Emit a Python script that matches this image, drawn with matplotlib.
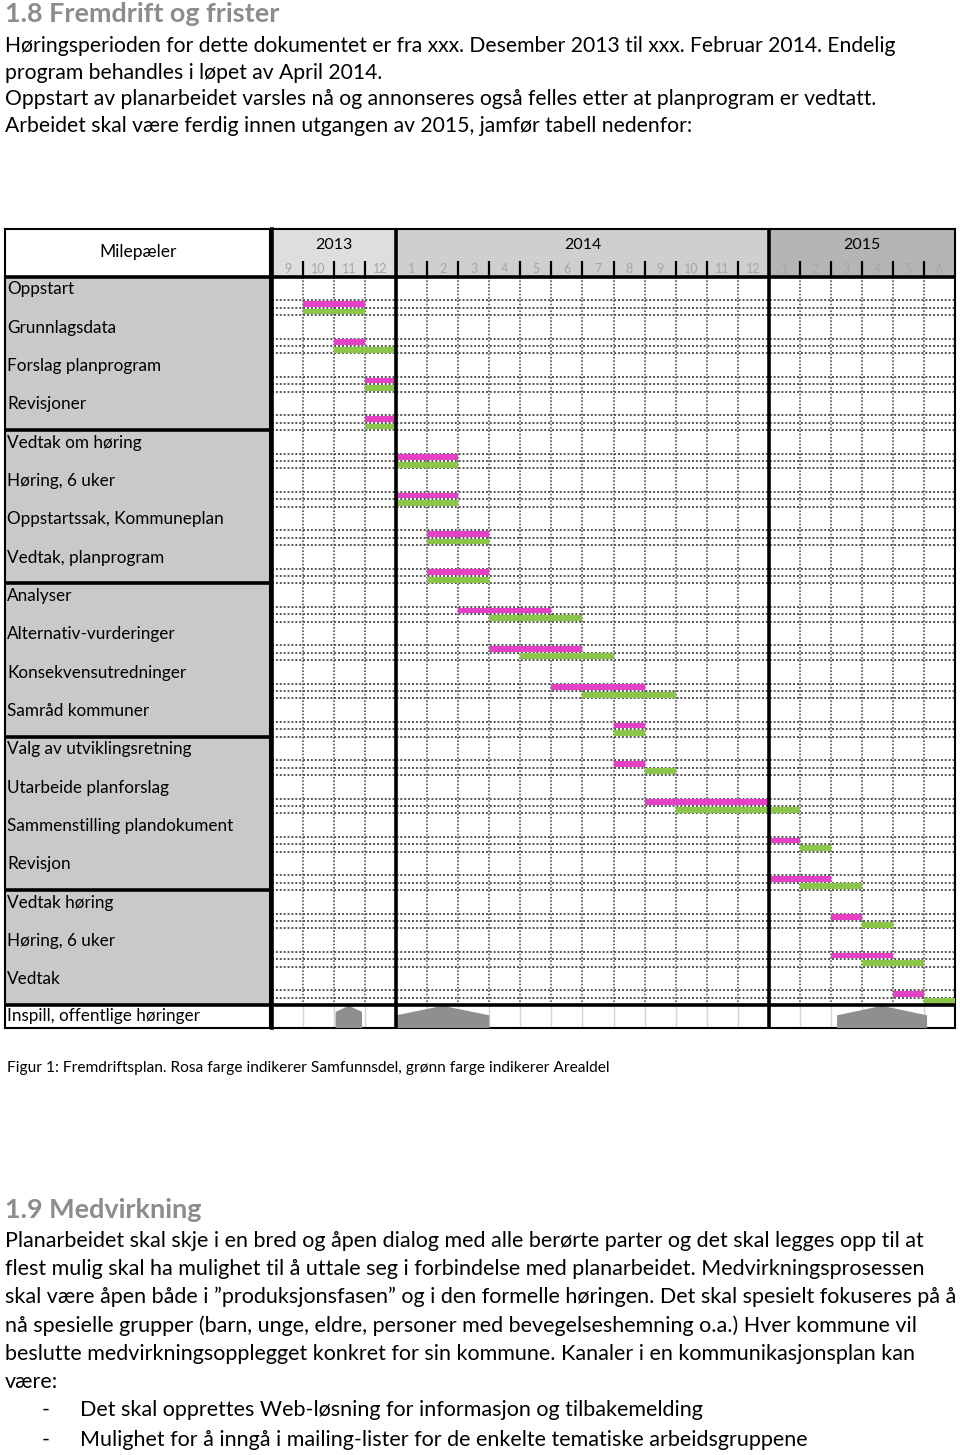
import matplotlib
matplotlib.use('Agg')
import matplotlib.pyplot as plt
from matplotlib.patches import Rectangle, Polygon

plt.rcParams['font.family'] = ['Lato', 'DejaVu Sans']

# ---------------- data ----------------
years = ['2013', '2014', '2015']
year_months = [[9, 10, 11, 12], list(range(1, 13)), list(range(1, 7))]
year_bg = ['#dedede', '#cfcfcf', '#b5b5b5']

tasks = ['Oppstart', 'Grunnlagsdata', 'Forslag planprogram', 'Revisjoner',
         'Vedtak om høring', 'Høring, 6 uker', 'Oppstartssak, Kommuneplan',
         'Vedtak, planprogram', 'Analyser', 'Alternativ-vurderinger',
         'Konsekvensutredninger', 'Samråd kommuner', 'Valg av utviklingsretning',
         'Utarbeide planforslag', 'Sammenstilling plandokument', 'Revisjon',
         'Vedtak høring', 'Høring, 6 uker', 'Vedtak']
groups = [0, 4, 8, 12, 16, 19]   # rows where a thick separator goes

# (start month index from Sep 2013, number of months)
samfunn = [(1, 2), (2, 1), (3, 1), (3, 1), (4, 2), (4, 2), (5, 2), (5, 2), (6, 3), (7, 3),
           (9, 3), (11, 1), (11, 1), (12, 4), (16, 1), (16, 2), (18, 1), (18, 2), (20, 1)]
areal = [(1, 2), (2, 2), (3, 1), (3, 1), (4, 2), (4, 2), (5, 2), (5, 2), (7, 3), (8, 3),
         (10, 3), (11, 1), (12, 1), (13, 4), (17, 1), (17, 2), (19, 1), (19, 2), (21, 1)]

inspill_label = 'Inspill, offentlige høringer'
inspill = [(2.05, 2.9), (4.0, 7.0), (18.2, 21.1)]

head1 = '1.8 Fremdrift og frister'
para1 = ['Høringsperioden for dette dokumentet er fra xxx. Desember 2013 til xxx. Februar 2014. Endelig',
         'program behandles i løpet av April 2014.',
         'Oppstart av planarbeidet varsles nå og annonseres også felles etter at planprogram er vedtatt.',
         'Arbeidet skal være ferdig innen utgangen av 2015, jamfør tabell nedenfor:']
caption = 'Figur 1: Fremdriftsplan. Rosa farge indikerer Samfunnsdel, grønn farge indikerer Arealdel'
head2 = '1.9 Medvirkning'
para2 = ['Planarbeidet skal skje i en bred og åpen dialog med alle berørte parter og det skal legges opp til at',
         'flest mulig skal ha mulighet til å uttale seg i forbindelse med planarbeidet. Medvirkningsprosessen',
         'skal være åpen både i ”produksjonsfasen” og i den formelle høringen. Det skal spesielt fokuseres på å',
         'nå spesielle grupper (barn, unge, eldre, personer med bevegelseshemning o.a.) Hver kommune vil',
         'beslutte medvirkningsopplegget konkret for sin kommune. Kanaler i en kommunikasjonsplan kan',
         'være:']
bullets = ['Det skal opprettes Web-løsning for informasjon og tilbakemelding',
           'Mulighet for å inngå i mailing-lister for de enkelte tematiske arbeidsgruppene']

PINK = '#e640c4'
GREEN = '#8cc648'
HEADC = '#8c8c8c'

# ---------------- figure ----------------
W, H = 960, 1455
fig = plt.figure(figsize=(W / 100, H / 100), dpi=100)
rend = fig.canvas.get_renderer()


def fit(s, width, weight='normal'):
    t = fig.text(0, 0, s, fontsize=10, fontweight=weight)
    w = t.get_window_extent(rend).width
    t.remove()
    return 10 * width / w


def ftext(x, y, s, size, **kw):
    fig.text(x / W, 1 - y / H, s, fontsize=size, va='center', ha='left', **kw)


def px_axes(x0, y0, x1, y1):
    return fig.add_axes([x0 / W, 1 - y1 / H, (x1 - x0) / W, (y1 - y0) / H])


# document text
ftext(5, 14, head1, fit(head1, 275, 'bold'), color=HEADC, fontweight='bold')
s1 = fit(para1[0], 890)
for y, line in zip([46, 73, 99, 126], para1):
    ftext(5, y, line, s1)

ftext(7, 1068, caption, fit(caption, 601))
ftext(5, 1210, head2, fit(head2, 197, 'bold'), color=HEADC, fontweight='bold')
s2 = fit(para2[0], 917)
for y, line in zip([1241, 1269, 1297, 1326, 1354, 1382], para2):
    ftext(5, y, line, s2)
for y, line in zip([1410, 1440], bullets):
    ftext(42, y, '-', s2)
    ftext(80, y, line, s2)

# ---------------- gantt table ----------------
ROW = 38.33
top = (229 - 276.7) / ROW
n = len(tasks)
bottom = n + (1028 - 1005) / ROW
nm = sum(len(m) for m in year_months)

ax = px_axes(272, 229, 955, 1028)
ax.set_xlim(0, nm)
ax.set_ylim(bottom, top)
ax.set_xticks([])
ax.set_yticks([])

# header backgrounds, years and months
start = 0
month_names = []
for yr, months, bg in zip(years, year_months, year_bg):
    ax.add_patch(Rectangle((start, top), len(months), -top, color=bg, lw=0, zorder=0))
    ax.text(start + len(months) / 2, top * 0.66, yr, ha='center', va='center', fontsize=11.5)
    month_names += months
    start += len(months)
for i, m in enumerate(month_names):
    ax.text(i + 0.5, -0.2, str(m), ha='center', va='center', fontsize=9, color='#a6a6a6')

year_edges = []
acc = 0
for months in year_months[:-1]:
    acc += len(months)
    year_edges.append(acc)
inner = [i for i in range(1, nm) if i not in year_edges]

ax.vlines(inner, -0.4, 0, colors='k', lw=1.6)
ax.vlines(inner, 0, n, colors='#555555', lw=1.2, linestyles=(0, (1, 1)))
ax.vlines(inner, n, bottom, colors='#d4d4d4', lw=1.0)

row_lines = []
for r in range(n):
    row_lines += [r + 0.613, r + 0.808]
    if r < n - 1:
        row_lines.append(r + 1.0)
ax.hlines(row_lines, 0, nm, colors='#555555', lw=1.4, linestyles=(0, (1, 1)))

ax.vlines(year_edges, top, bottom, colors='k', lw=2.6, zorder=4)
ax.hlines([0, n], 0, nm, colors='k', lw=2.6, zorder=4)

# bars
for r, (s, d) in enumerate(samfunn):
    ax.barh(r + 0.71, d, left=s, height=0.15, color=PINK, zorder=3)
for r, (s, d) in enumerate(areal):
    ax.barh(r + 0.905, d, left=s, height=0.15, color=GREEN, zorder=3)

# hearing markers
for x0, x1 in inspill:
    sh = n + (0.18 if x1 - x0 < 1.5 else 0.27)
    pts = [(x0, bottom), (x0, sh), ((x0 + x1) / 2, n + 0.02), (x1, sh), (x1, bottom)]
    ax.add_patch(Polygon(pts, closed=True, color='#8f8f8f', lw=0, zorder=3))

for side in ['top', 'bottom', 'right']:
    ax.spines[side].set_linewidth(1.5)
ax.spines['left'].set_linewidth(2.6)

# ---------------- label column ----------------
axl = px_axes(5, 229, 270, 1028)
axl.set_xlim(0, 265)
axl.set_ylim(bottom, top)
axl.set_xticks([])
axl.set_yticks([])
axl.add_patch(Rectangle((0, 0), 265, n, color='#c9c9c9', lw=0, zorder=0))
axl.hlines(groups, 0, 265, colors='k', lw=2.6)
axl.text(133, -0.64, 'Milepæler', ha='center', va='center', fontsize=fit('Milepæler', 77))
ls = fit('Sammenstilling plandokument', 226)
for r, name in enumerate(tasks):
    axl.text(2, r + 0.33, name, va='center', ha='left', fontsize=ls)
axl.text(2, (n + bottom) / 2, inspill_label, va='center', ha='left', fontsize=ls)
for side in axl.spines:
    axl.spines[side].set_linewidth(1.5)

fig.savefig('out.png', dpi=100)
